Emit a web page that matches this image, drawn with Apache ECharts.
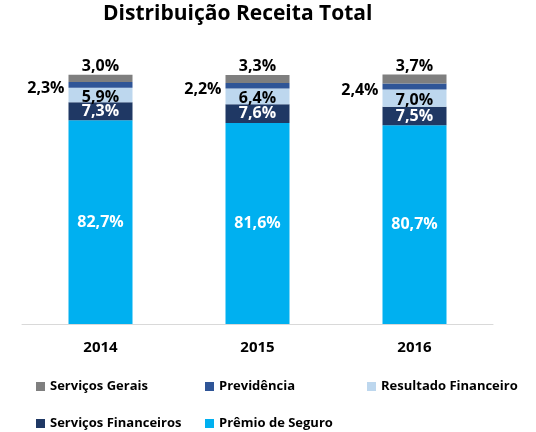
<!DOCTYPE html>
<html><head><meta charset="utf-8">
<script src="https://cdn.jsdelivr.net/npm/echarts@6/dist/echarts.min.js"></script>
<style>html,body{margin:0;padding:0;background:#fff}#c{width:536px;height:432px}</style>
</head><body><div id="c"></div>
<script>
const categories = ['2014', '2015', '2016'];
const premioSeguro = [82.7, 81.6, 80.7];
const servicosFinanceiros = [7.3, 7.6, 7.5];
const resultadoFinanceiro = [5.9, 6.4, 7.0];
const previdencia = [2.3, 2.2, 2.4];
const servicosGerais = [3.0, 3.3, 3.7];

const FONT = 'Open Sans';
const fmt = p => p.value.toFixed(1).replace('.', ',') + '%';
const chart = echarts.init(document.getElementById('c'), null, {renderer: 'canvas'});
const lbl = (pos, color, extra) => Object.assign({show: true, position: pos, formatter: fmt, color: color, fontFamily: FONT, fontWeight: 'bold', fontSize: 16}, extra || {});
function legend(name, left, top) {
  return {data: [name], left: left, top: top, itemWidth: 9, itemHeight: 9, icon: 'rect', itemGap: 0,
    textStyle: {fontFamily: FONT, fontWeight: 'bold', fontSize: 13, color: '#000'}, selectedMode: false};
}
chart.setOption({
  animation: false,
  title: {text: 'Distribuição Receita Total', left: 98, top: -1, textStyle: {fontFamily: FONT, fontWeight: 'bold', fontSize: 21, color: '#000'}},
  grid: {left: 22, right: 43, top: 53, bottom: 108},
  xAxis: {type: 'category', data: categories, axisLine: {lineStyle: {color: '#d9d9d9'}}, axisTick: {show: false},
    axisLabel: {fontFamily: FONT, fontWeight: 'bold', fontSize: 15, color: '#000', margin: 16}},
  yAxis: {type: 'value', min: 0, max: 110, show: false, splitLine: {show: false}},
  legend: [
    legend('Serviços Gerais', 31, 375),
    legend('Previdência', 200, 375),
    legend('Resultado Financeiro', 362, 375),
    legend('Serviços Financeiros', 31, 412),
    legend('Prêmio de Seguro', 200, 412)
  ],
  series: [
    {name: 'Prêmio de Seguro', type: 'bar', stack: 's', data: premioSeguro, barWidth: 64, itemStyle: {color: '#00B0F0'}, label: lbl('inside', '#fff')},
    {name: 'Serviços Financeiros', type: 'bar', stack: 's', data: servicosFinanceiros, itemStyle: {color: '#1F3864'}, label: lbl('inside', '#fff')},
    {name: 'Resultado Financeiro', type: 'bar', stack: 's', data: resultadoFinanceiro, itemStyle: {color: '#BDD7EE'}, label: lbl('inside', '#000', {offset: [0, 2]})},
    {name: 'Previdência', type: 'bar', stack: 's', data: previdencia, itemStyle: {color: '#2F5597'}, label: lbl('left', '#000', {distance: 4, offset: [0, 4]})},
    {name: 'Serviços Gerais', type: 'bar', stack: 's', data: servicosGerais, itemStyle: {color: '#7F7F7F'}, label: lbl('top', '#000', {distance: 0})}
  ]
});
</script></body></html>
